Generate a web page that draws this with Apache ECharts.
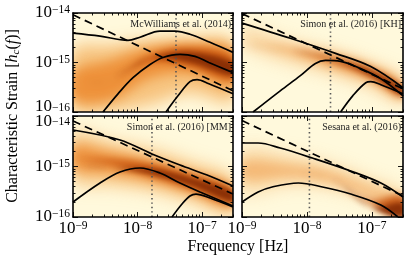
<!DOCTYPE html>
<html><head><meta charset="utf-8">
<script src="https://cdn.jsdelivr.net/npm/echarts@6/dist/echarts.min.js"></script>
<style>html,body{margin:0;padding:0;background:#fff}#c{width:416px;height:266px}</style>
</head><body><div id="c"></div>
<script>
// ---------- data ----------
const panelTitles = ['McWilliams et al. (2014)', 'Simon et al. (2016) [KH]', 'Simon et al. (2016) [MM]', 'Sesana et al. (2016)'];
const xTickLabels = [1e-9, 1e-8, 1e-7];
const yTickLabels = [1e-16, 1e-15, 1e-14];
const xMinorTicks = [2e-9,3e-9,4e-9,5e-9,6e-9,7e-9,8e-9,9e-9,2e-8,3e-8,4e-8,5e-8,6e-8,7e-8,8e-8,9e-8,2e-7,3e-7];
const yMinorTicks = [2e-16,3e-16,4e-16,5e-16,6e-16,7e-16,8e-16,9e-16,2e-15,3e-15,4e-15,5e-15,6e-15,7e-15,8e-15,9e-15];
const xRange = [1e-9, 3e-7];
const yRange = [1e-16, 1e-14];

// Panel 1: McWilliams et al. (2014)
const p1Upper = [[1e-9,3.91e-15],[2.62e-9,3.40e-15],[7.1e-9,2.81e-15],[1.09e-8,3.24e-15],[2.22e-8,4.30e-15],[3.8e-8,4.30e-15],[6.47e-8,3.72e-15],[1.32e-7,2.56e-15],[3e-7,1.60e-15]];
const p1Mid = [[2.91e-9,1e-16],[4.97e-9,2.33e-16],[8.49e-9,4.94e-16],[1.56e-8,9.1e-16],[2.47e-8,1.26e-15],[4.53e-8,1.46e-15],[7.74e-8,1.33e-15],[1.27e-7,1.0e-15],[3e-7,6.25e-16]];
const p1Low = [[2.75e-8,1e-16],[4.22e-8,2.12e-16],[6.47e-8,4.09e-16],[8.32e-8,4.50e-16],[1.27e-7,3.72e-16],[3e-7,2.33e-16]];
const p1Dash = [[1e-9,9.2e-15],[3e-7,2.68e-16]];
const p1Dot = 3.93e-8;
const p1DensF = [1e-9, 3.74e-9, 1.56e-8, 6.47e-8, 3e-7];
const p1WideLo = [1e-16,1e-16,1.4e-16,2.4e-16,1.6e-16];
const p1WideHi = [1.9e-15,2.3e-15,2.9e-15,3.2e-15,2.6e-15];
const p1MidLo = [1.8e-16,1.7e-16,4.8e-16,6.0e-16,3.2e-16];
const p1MidHi = [6.5e-16,1.1e-15,2.0e-15,2.4e-15,1.9e-15];
const p1CoreLo = [4.29e-16,4.29e-16,1.0e-15,8.0e-16,4.5e-16];
const p1CoreHi = [4.29e-16,4.29e-16,1.4e-15,2.0e-15,1.3e-15];
const p1DarkLo = [5e-16,5e-16,1.21e-15,1.0e-15,5.5e-16];
const p1DarkHi = [5e-16,5e-16,1.21e-15,1.6e-15,1.0e-15];

// Panel 2: Simon et al. (2016) [KH]
const p2Upper = [[1e-9,6.25e-15],[5.53e-9,3.09e-15],[2.75e-8,1.53e-15],[9.57e-8,8.28e-16],[3e-7,3.09e-16]];
const p2Mid = [[1.48e-9,1e-16],[3.87e-9,2.68e-16],[7.91e-9,5.43e-16],[1.35e-8,9.55e-16],[1.93e-8,1.10e-15],[3.29e-8,1.05e-15],[5.61e-8,8.28e-16],[1.37e-7,4.71e-16],[3e-7,2.12e-16]];
const p2Low = [[3.29e-8,1e-16],[5.05e-8,2.12e-16],[8.02e-8,3.91e-16],[9.57e-8,4.09e-16],[1.37e-7,3.56e-16],[3e-7,2.33e-16]];
const p2Dash = [[1e-9,9.72e-15],[3e-7,2.94e-16]];
const p2Dot = 2.30e-8;
const p2DensF = [1e-9, 5.53e-9, 2.30e-8, 9.57e-8, 3e-7];
const p2WideLo = [2.2e-15,9.0e-16,5.5e-16,2.8e-16,1.5e-16];
const p2WideHi = [5.5e-15,2.9e-15,1.8e-15,1.0e-15,5.0e-16];
const p2MidLo = [2.81e-15,1.5e-15,8.0e-16,4.2e-16,1.8e-16];
const p2MidHi = [2.81e-15,2.0e-15,1.5e-15,8.5e-16,3.8e-16];
const p2CoreLo = [2.22e-15,1.76e-15,1.05e-15,5.0e-16,2.0e-16];
const p2CoreHi = [2.22e-15,1.76e-15,1.3e-15,7.6e-16,3.2e-16];
const p2DarkLo = [2.22e-15,1.76e-15,1.21e-15,5.5e-16,2.2e-16];
const p2DarkHi = [2.22e-15,1.76e-15,1.21e-15,6.8e-16,2.9e-16];

// Panel 3: Simon et al. (2016) [MM]
const p3Upper = [[1e-9,5.28e-15],[5.35e-9,3.35e-15],[1.67e-8,1.77e-15],[4.53e-8,1.07e-15],[1.19e-7,6.79e-16],[3e-7,4.11e-16]];
const p3Mid = [[1e-9,1.98e-16],[2.62e-9,4.71e-16],[5.35e-9,7.78e-16],[1.09e-8,9.33e-16],[2.22e-8,7.43e-16],[4.53e-8,4.71e-16],[9.25e-8,3.13e-16],[3e-7,1.65e-16]];
const p3Low = [[3.41e-8,1e-16],[4.87e-8,1.81e-16],[6.47e-8,2.61e-16],[8.02e-8,2.85e-16],[1.32e-7,2.38e-16],[3e-7,1.58e-16]];
const p3Dash = [[1e-9,7.96e-15],[3e-7,2.85e-16]];
const p3Dot = 1.67e-8;
const p3DensF = [1e-9, 3.74e-9, 1.56e-8, 6.47e-8, 3e-7];
const p3WideLo = [5.0e-16,4.0e-16,3.2e-16,2.0e-16,1.1e-16];
const p3WideHi = [4.8e-15,3.3e-15,2.3e-15,1.3e-15,6.0e-16];
const p3MidLo = [9.0e-16,7.0e-16,5.0e-16,3.0e-16,1.5e-16];
const p3MidHi = [2.6e-15,2.0e-15,1.35e-15,8.0e-16,4.0e-16];
const p3CoreLo = [1.47e-15,1.1e-15,6.5e-16,3.6e-16,1.8e-16];
const p3CoreHi = [1.47e-15,1.4e-15,1.15e-15,7.2e-16,3.6e-16];
const p3DarkLo = [1.07e-15,9.33e-16,7.2e-16,4.3e-16,2.0e-16];
const p3DarkHi = [1.07e-15,9.33e-16,9.0e-16,6.0e-16,3.1e-16];

// Panel 4: Sesana et al. (2016)
const p4Upper = [[1e-9,2.92e-15],[1.77e-9,2.92e-15],[3.87e-9,2.32e-15],[1.21e-8,1.47e-15],[4.70e-8,8.15e-16],[1.37e-7,4.71e-16],[3e-7,2.49e-16]];
const p4Low = [[1e-9,1.98e-16],[1.77e-9,3.13e-16],[2.91e-9,3.93e-16],[7.36e-9,4.71e-16],[1.73e-8,3.93e-16],[4.70e-8,2.85e-16],[1.37e-7,1.73e-16],[2.51e-7,1e-16]];
const p4Dash = [[1e-9,8.11e-15],[3e-7,2.61e-16]];
const p4Dot = 1.09e-8;
const p4DensF = [1e-9, 5.53e-9, 2.30e-8, 9.57e-8, 3e-7];
const p4WideLo = [3.0e-16,4.0e-16,3.5e-16,2.0e-16,1.0e-16];
const p4WideHi = [2.3e-15,1.8e-15,1.2e-15,6.0e-16,3.2e-16];
const p4MidLo = [5.5e-16,6.0e-16,4.8e-16,2.4e-16,1.1e-16];
const p4MidHi = [1.3e-15,1.1e-15,8.0e-16,4.0e-16,2.2e-16];
const p4CoreLo = [7.5e-16,7.5e-16,6.0e-16,1.8e-16,1.0e-16];
const p4CoreHi = [7.5e-16,7.5e-16,6.0e-16,2.2e-16,2.7e-16];
const p4DarkLo = [7.5e-16,7.5e-16,6.0e-16,1.6e-16,1.0e-16];
const p4DarkHi = [7.5e-16,7.5e-16,6.0e-16,1.6e-16,1.9e-16];

// ---------- layout / style ----------
const grids = [
  {left:73, top:13, width:160, height:99},
  {left:242, top:13, width:161, height:99},
  {left:73, top:116, width:160, height:101},
  {left:242, top:116, width:161, height:101}
];
const BG = '#fff9dc';
const SERIF = '"Liberation Serif", "DejaVu Serif", serif';
const layerRGB = [[245,180,100],[236,135,45],[200,85,15],[130,42,5]];
const layerAlpha = [0.62, 0.72, 0.88, 0.88];
const layerBlur = [16, 12, 7, 5];
const panelStrength = [[1.25,1.15,1,1],[0.6,0.95,1,1],[1,1.1,1,1],[0.6,0.6,1,1]];

const panels = [
  {upper:p1Upper, mid:p1Mid, low:p1Low, dash:p1Dash, dot:p1Dot, f:p1DensF, layers:[[p1WideLo,p1WideHi],[p1MidLo,p1MidHi],[p1CoreLo,p1CoreHi],[p1DarkLo,p1DarkHi]]},
  {upper:p2Upper, mid:p2Mid, low:p2Low, dash:p2Dash, dot:p2Dot, f:p2DensF, layers:[[p2WideLo,p2WideHi],[p2MidLo,p2MidHi],[p2CoreLo,p2CoreHi],[p2DarkLo,p2DarkHi]]},
  {upper:p3Upper, mid:p3Mid, low:p3Low, dash:p3Dash, dot:p3Dot, f:p3DensF, layers:[[p3WideLo,p3WideHi],[p3MidLo,p3MidHi],[p3CoreLo,p3CoreHi],[p3DarkLo,p3DarkHi]]},
  {upper:p4Upper, mid:null, low:p4Low, dash:p4Dash, dot:p4Dot, f:p4DensF, layers:[[p4WideLo,p4WideHi],[p4MidLo,p4MidHi],[p4CoreLo,p4CoreHi],[p4DarkLo,p4DarkHi]]}
];

function expLabel(v) {
  const l = Math.log10(v), e = Math.round(l);
  if (Math.abs(l - e) > 1e-6) return '';
  return '{a|10}{b|\u2212' + (-e) + '}';
}
function richFor(lh) {
  return {
    a: {fontFamily: SERIF, fontSize: 17, color: '#000', lineHeight: lh},
    b: {fontFamily: SERIF, fontSize: 11.5, color: '#000', verticalAlign: 'top', lineHeight: lh, padding: [0, 0, 8, 0]}
  };
}

const xAxes = [], yAxes = [], series = [], graphics = [];
grids.forEach((g, gi) => {
  const bottomRow = gi >= 2, leftCol = gi % 2 === 0;
  const line = {show: true, onZero: false, lineStyle: {color: '#000', width: 1.6}};
  const tickStyle = {color: '#000', width: 0.9};
  const mk = (pos, major, isX, labelOpt) => ({
    gridIndex: gi, type: 'log', min: isX ? xRange[0] : yRange[0], max: isX ? xRange[1] : yRange[1],
    position: pos, z: 10,
    axisLine: major ? line : {show: false},
    axisTick: {show: true, inside: true, length: major ? 5 : 2.5, lineStyle: tickStyle,
               customValues: major ? (isX ? xTickLabels : yTickLabels) : (isX ? xMinorTicks : yMinorTicks)},
    minorTick: {show: false},
    splitLine: {show: false},
    axisLabel: labelOpt ? Object.assign({show: true, formatter: expLabel, showMinLabel: true, showMaxLabel: true, hideOverlap: false}, labelOpt) : {show: false}
  });
  const xLab = bottomRow ? {customValues: xTickLabels, rich: richFor(18), margin: 3} : null;
  xAxes.push(mk('bottom', true, true, xLab), mk('bottom', false, true, null), mk('top', true, true, null), mk('top', false, true, null));
  let yLabMain = null, yLabEdge = null;
  if (leftCol) {
    if (!bottomRow) {
      yLabMain = {customValues: [1e-15, 1e-14], rich: richFor(18), margin: 3};
      yLabEdge = {customValues: [1e-16], rich: richFor(10), margin: 3, verticalAlign: 'bottom'};
    } else {
      yLabMain = {customValues: [1e-16, 1e-15], rich: richFor(18), margin: 3};
      yLabEdge = {customValues: [1e-14], rich: richFor(12), margin: 3, verticalAlign: 'top'};
    }
  }
  yAxes.push(mk('left', true, false, yLabMain), mk('left', false, false, yLabEdge), mk('right', true, false, null), mk('right', false, false, null));

  const P = panels[gi];
  const ax = {xAxisIndex: gi * 4, yAxisIndex: gi * 4};
  const OFF = 3000;
  // density band layers: drawn as blurred shadows of the band polygons
  series.push(Object.assign({
    type: 'custom', clip: true, z: 1, silent: true, data: [[P.f[0], P.layers[0][0][0]]],
    renderItem: function (params, api) {
      const children = P.layers.map((L, li) => {
        const pts = [];
        for (let i = 0; i < P.f.length; i++) { const c = api.coord([P.f[i], L[1][i]]); pts.push([c[0] + OFF, c[1]]); }
        for (let i = P.f.length - 1; i >= 0; i--) { const c = api.coord([P.f[i], L[0][i]]); pts.push([c[0] + OFF, c[1]]); }
        const rgb = layerRGB[li];
        const a = Math.min(1, layerAlpha[li] * panelStrength[gi][li]);
        return {type: 'polygon', shape: {points: pts, smooth: 0.35},
                style: {fill: 'rgb(' + rgb.join(',') + ')', shadowBlur: layerBlur[li], shadowOffsetX: -OFF, shadowOffsetY: 0,
                        shadowColor: 'rgba(' + rgb.join(',') + ',' + a + ')'}};
      });
      return {type: 'group', children: children};
    }
  }, ax));
  const solid = (d) => Object.assign({type: 'line', data: d, showSymbol: false, symbol: 'none', smooth: 0.35, z: 5, silent: true,
    lineStyle: {color: '#000', width: 1.7}}, ax);
  series.push(solid(P.upper));
  if (P.mid) series.push(solid(P.mid));
  series.push(solid(P.low));
  series.push(Object.assign({type: 'line', data: P.dash, showSymbol: false, symbol: 'none', z: 5, silent: true,
    lineStyle: {color: '#000', width: 1.7, type: [8, 5]}}, ax));
  series.push(Object.assign({type: 'line', data: [[P.dot, yRange[0]], [P.dot, yRange[1]]], showSymbol: false, symbol: 'none', z: 4, silent: true,
    lineStyle: {color: '#555', width: 1.6, type: [1.4, 3]}}, ax));

  graphics.push({type: 'text', x: g.left + g.width - 2, y: g.top + 11, z: 100,
    style: {text: panelTitles[gi], align: 'right', verticalAlign: 'middle', fontFamily: SERIF, fontSize: 10, fill: '#222'}});
});

graphics.push({type: 'text', x: 13, y: 116, rotation: Math.PI / 2, z: 100,
  style: {text: '{n|Characteristic Strain [}{i|h}{s|c}{n|(}{i|f}{n|)]}', align: 'center', verticalAlign: 'middle',
    rich: {n: {fontFamily: SERIF, fontSize: 16, fill: '#000', lineHeight: 18},
           i: {fontFamily: SERIF, fontSize: 16, fontStyle: 'italic', fill: '#000', lineHeight: 18},
           s: {fontFamily: SERIF, fontSize: 11, fontStyle: 'italic', fill: '#000', verticalAlign: 'bottom', lineHeight: 18, padding: [6,0,0,0]}}}});
graphics.push({type: 'text', x: 238, y: 247, z: 100,
  style: {text: 'Frequency [Hz]', align: 'center', verticalAlign: 'middle', fontFamily: SERIF, fontSize: 16, fill: '#000'}});

const chart = echarts.init(document.getElementById('c'), null, {renderer: 'canvas'});
chart.setOption({
  animation: false,
  backgroundColor: '#fff',
  grid: grids.map(g => Object.assign({show: true, backgroundColor: BG, borderWidth: 0, containLabel: false}, g)),
  xAxis: xAxes, yAxis: yAxes, series: series, graphic: graphics
});
</script></body></html>
